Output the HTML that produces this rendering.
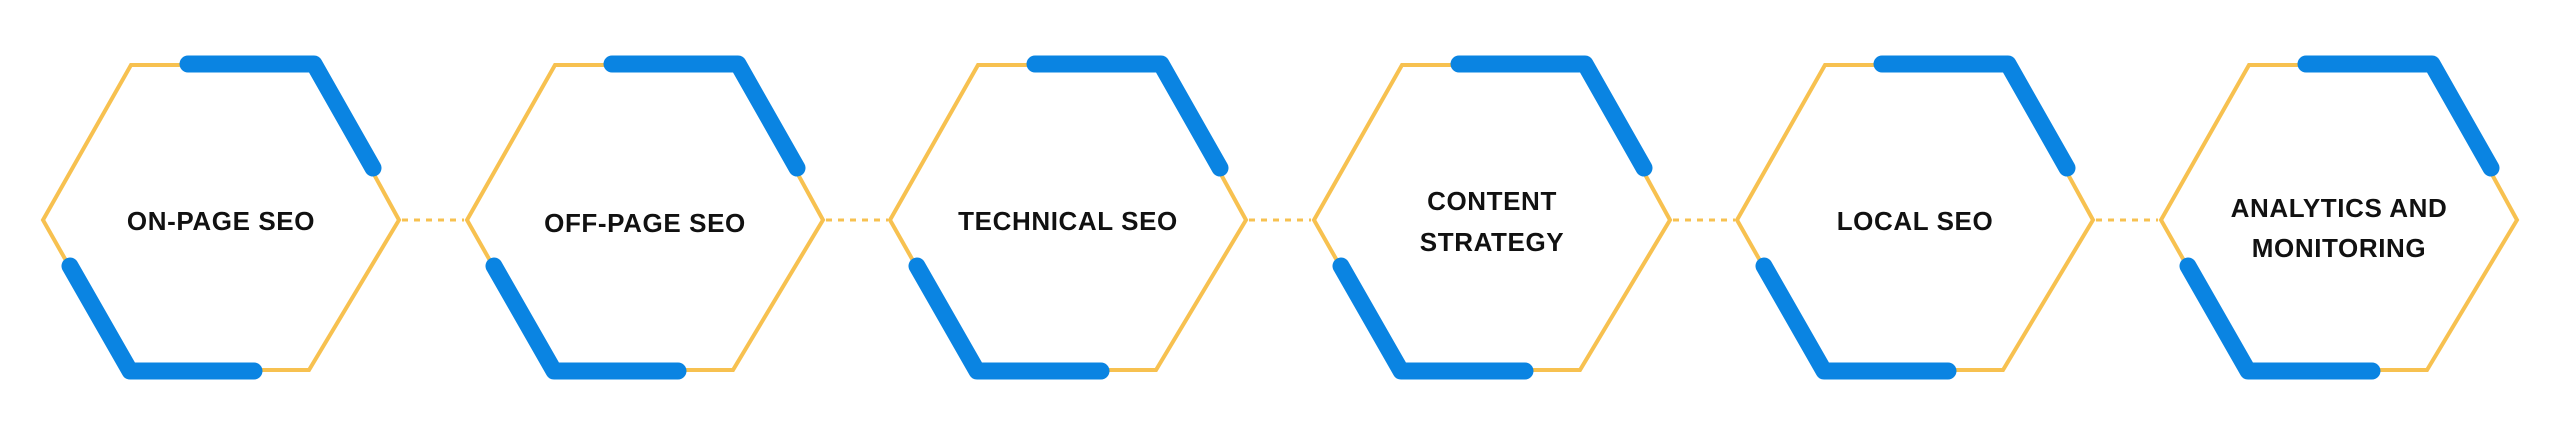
<!DOCTYPE html>
<html><head><meta charset="utf-8"><style>
html,body{margin:0;padding:0;background:#fff;width:2554px;height:438px;overflow:hidden}
svg{display:block}
text{font-family:"Liberation Sans",sans-serif;font-weight:bold;font-size:26px;letter-spacing:0.6px;fill:#111;text-anchor:middle}
</style></head><body>
<svg width="2554" height="438" viewBox="0 0 2554 438" xmlns="http://www.w3.org/2000/svg">
<defs>
<g id="hex">
<polygon points="0,220 88,65 271,65 356,220 266,370 85,370" fill="#fff" stroke="#f7c150" stroke-width="4" stroke-linejoin="miter"/>
<polyline points="145,64 271,64 330,168" fill="none" stroke="#0a84e2" stroke-width="17" stroke-linecap="round" stroke-linejoin="round"/>
<polyline points="27,266 87,371 211,371" fill="none" stroke="#0a84e2" stroke-width="17" stroke-linecap="round" stroke-linejoin="round"/>
</g>
</defs>
<g stroke="#f7c150" stroke-width="3" stroke-dasharray="6,6">
<line x1="402" y1="220" x2="464" y2="220"/>
<line x1="826" y1="220" x2="888" y2="220"/>
<line x1="1249" y1="220" x2="1311" y2="220"/>
<line x1="1673" y1="220" x2="1735" y2="220"/>
<line x1="2096" y1="220" x2="2158" y2="220"/>
</g>
<use href="#hex" x="43"/>
<use href="#hex" x="467"/>
<use href="#hex" x="890"/>
<use href="#hex" x="1314"/>
<use href="#hex" x="1737"/>
<use href="#hex" x="2161"/>
<text x="221" y="230">ON-PAGE SEO</text>
<text x="645" y="232">OFF-PAGE SEO</text>
<text x="1068" y="230">TECHNICAL SEO</text>
<text x="1492" y="210">CONTENT</text>
<text x="1492" y="251">STRATEGY</text>
<text x="1915" y="230">LOCAL SEO</text>
<text x="2339" y="217">ANALYTICS AND</text>
<text x="2339" y="257">MONITORING</text>
</svg>
</body></html>
